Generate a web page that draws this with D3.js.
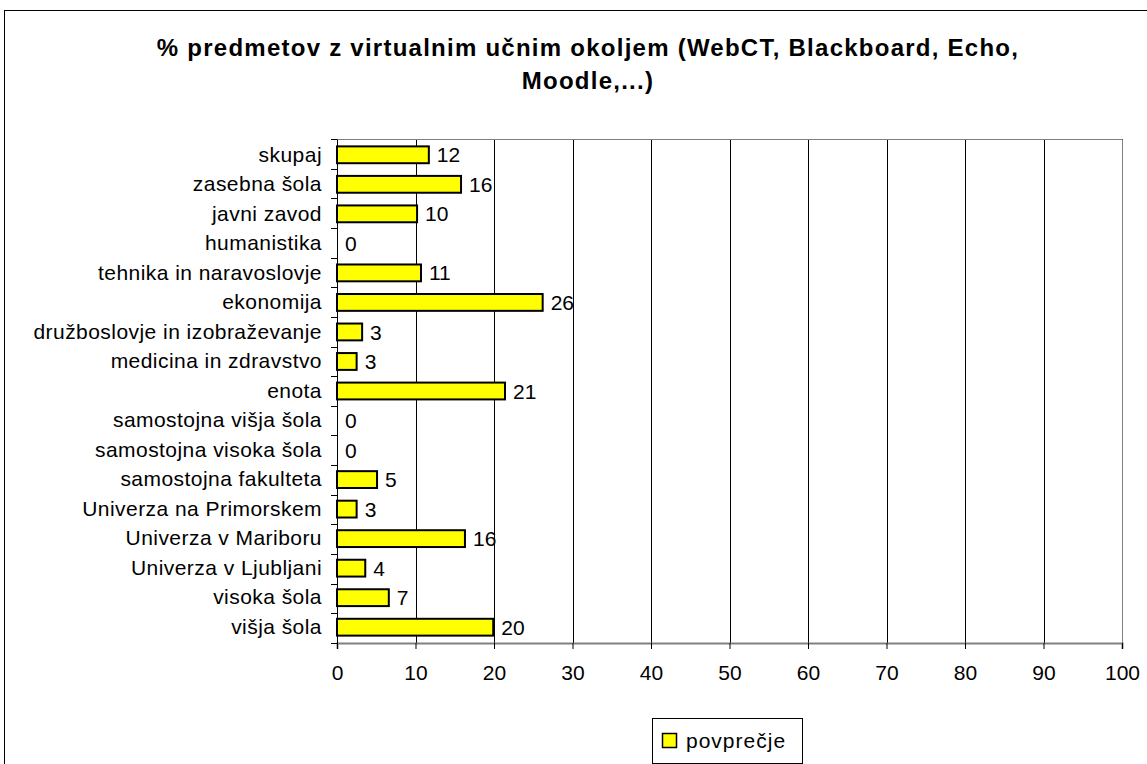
<!DOCTYPE html>
<html>
<head>
<meta charset="utf-8">
<script src="https://cdn.jsdelivr.net/npm/d3@7"></script>
<style>
  body { margin: 0; background: #fff; }
  svg { font-family: "Liberation Sans", Arial, sans-serif; }
</style>
</head>
<body>
<div id="main"></div>
<script>
var width = 1147,
    height = 764;

// categories from top to bottom, as in the picture
var categories = [
    "skupaj", "zasebna šola", "javni zavod", "humanistika",
    "tehnika in naravoslovje", "ekonomija", "družboslovje in izobraževanje",
    "medicina in zdravstvo", "enota", "samostojna višja šola",
    "samostojna visoka šola", "samostojna fakulteta", "Univerza na Primorskem",
    "Univerza v Mariboru", "Univerza v Ljubljani", "visoka šola", "višja šola"
];
var values = [11.7, 15.8, 10.2, 0, 10.7, 26.2, 3.2, 2.5, 21.4, 0, 0, 5.1, 2.5, 16.3, 3.6, 6.6, 19.9];
var xTicks = [0, 10, 20, 30, 40, 50, 60, 70, 80, 90, 100];
var titleLines = ["% predmetov z virtualnim učnim okoljem (WebCT, Blackboard, Echo,", "Moodle,...)"];
var seriesName = "povprečje";

var margin = {left: 337, right: 25, top: 139, bottom: 121};
var fs = 21;

var svg = d3.select("div#main").append("svg")
    .attr("width", width)
    .attr("height", height);

// outer chart frame
svg.append("rect")
    .attr("x", 4.5).attr("y", 10.5)
    .attr("width", width + 10).attr("height", height + 10)
    .attr("fill", "none").attr("stroke", "#000");

var x = d3.scaleLinear().domain([0, 100]).range([margin.left, width - margin.right]);
var y = d3.scaleBand().domain(categories).range([margin.top, height - margin.bottom]).paddingInner(0.43).paddingOuter(0.25);

var data = categories.map(function(c, i) { return {cat: c, value: values[i]}; });

// title
svg.append("g").selectAll("text")
    .data(titleLines)
    .enter().append("text")
    .attr("x", 588)
    .attr("y", function(d, i) { return 56 + i * 33; })
    .attr("text-anchor", "middle")
    .attr("font-weight", "bold")
    .attr("font-size", 24)
    .attr("letter-spacing", 1.25)
    .text(function(d) { return d; });

// gridlines
svg.append("g").selectAll("line")
    .data(xTicks.slice(1))
    .enter().append("line")
    .attr("x1", function(d) { return Math.round(x(d)) + 0.5; })
    .attr("x2", function(d) { return Math.round(x(d)) + 0.5; })
    .attr("y1", margin.top)
    .attr("y2", height - margin.bottom)
    .attr("stroke", "#000");

// plot area border (top + right)
svg.append("path")
    .attr("d", `M${margin.left},${margin.top + 0.5}H${Math.round(x(100)) + 0.5}V${height - margin.bottom}`)
    .attr("fill", "none").attr("stroke", "#808080");

// x axis
var xAxis = svg.append("g")
    .attr("transform", `translate(0,${height - margin.bottom})`)
    .call(d3.axisBottom(x).tickValues(xTicks).tickSize(6).tickPadding(16));
xAxis.select(".domain").attr("stroke", "#808080").attr("stroke-width", 2);
xAxis.selectAll(".tick line").attr("stroke", "#000");
xAxis.selectAll("text").attr("font-size", fs).attr("font-family", "Liberation Sans, Arial").attr("fill", "#000");

// y axis
var yAxis = svg.append("g")
    .attr("transform", `translate(${margin.left},0)`)
    .call(d3.axisLeft(y).tickSize(0).tickPadding(15));
yAxis.select(".domain").attr("stroke", "#000");
yAxis.selectAll("text").attr("font-size", fs).attr("letter-spacing", 0.45)
    .attr("font-family", "Liberation Sans, Arial").attr("fill", "#000");

// category separator ticks
var step = y.step();
svg.append("g").selectAll("line")
    .data(d3.range(categories.length + 1))
    .enter().append("line")
    .attr("x1", margin.left - 6).attr("x2", margin.left)
    .attr("y1", function(i) { return Math.round(margin.top + i * (height - margin.bottom - margin.top) / categories.length) + 0.5; })
    .attr("y2", function(i) { return Math.round(margin.top + i * (height - margin.bottom - margin.top) / categories.length) + 0.5; })
    .attr("stroke", "#000");

// bars
svg.append("g").selectAll("rect")
    .data(data.filter(function(d) { return d.value > 0; }))
    .enter().append("rect")
    .attr("x", x(0))
    .attr("y", function(d) { return y(d.cat); })
    .attr("width", function(d) { return x(d.value) - x(0); })
    .attr("height", y.bandwidth())
    .attr("fill", "#ffff00")
    .attr("stroke", "#000")
    .attr("stroke-width", 2);

// value labels
svg.append("g").selectAll("text")
    .data(data)
    .enter().append("text")
    .attr("x", function(d) { return x(d.value) + 8; })
    .attr("y", function(d) { return y(d.cat) + y.bandwidth() / 2; })
    .attr("dy", "0.36em")
    .attr("font-size", fs)
    .text(function(d) { return Math.round(d.value); });

// legend, centred under the plot area
var leg = svg.append("g").attr("transform", "translate(652,718)");
leg.append("rect").attr("x", 0.5).attr("y", 0.5).attr("width", 150).attr("height", 45)
    .attr("fill", "#fff").attr("stroke", "#000");
leg.append("rect").attr("x", 10.5).attr("y", 15.5).attr("width", 14).attr("height", 14)
    .attr("fill", "#ffff00").attr("stroke", "#000").attr("stroke-width", 1.5);
leg.append("text").attr("x", 34).attr("y", 30).attr("font-size", fs).attr("letter-spacing", 1).text(seriesName);
</script>
</body>
</html>
